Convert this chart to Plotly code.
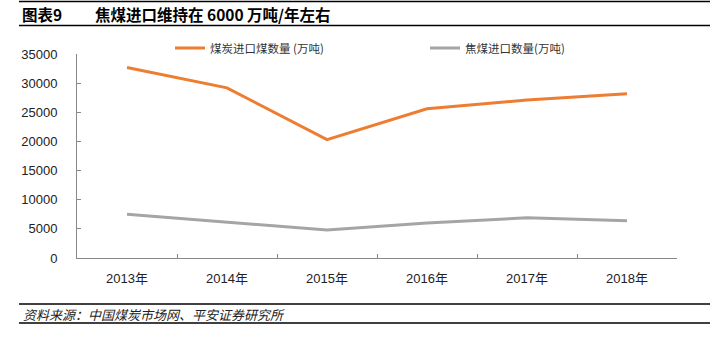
import plotly.graph_objects as go

years = ["2013年", "2014年", "2015年", "2016年", "2017年", "2018年"]
coal_import = [32700, 29200, 20300, 25600, 27100, 28200]
coking_import = [7500, 6200, 4800, 6000, 6900, 6400]
series_names = ["煤炭进口煤数量 (万吨)", "焦煤进口数量(万吨)"]
y_ticks = [0, 5000, 10000, 15000, 20000, 25000, 30000, 35000]
y_tick_labels = [str(v) for v in y_ticks]

W, H = 728, 351
L, R, T, B = 77, 51, 54, 93
PW, PH = W - L - R, H - T - B


def px_x(x):
    return (x - L) / PW


def px_y(y):
    return (H - B - y) / PH


fig = go.Figure()
fig.add_trace(go.Scatter(x=years, y=coal_import, name=series_names[0], mode="lines",
                         line=dict(color="#ED7D31", width=3)))
fig.add_trace(go.Scatter(x=years, y=coking_import, name=series_names[1], mode="lines",
                         line=dict(color="#A5A5A5", width=3)))

axis_font = dict(family="Liberation Sans, Arial, Noto Sans CJK SC", size=13, color="#222")

fig.update_layout(
    width=W, height=H,
    margin=dict(l=L, r=R, t=T, b=B),
    paper_bgcolor="white", plot_bgcolor="white",
    showlegend=True,
    legend=dict(orientation="h", x=px_x(170), xanchor="left", y=px_y(48), yanchor="middle",
                font=dict(family="Noto Sans CJK SC", size=11.5, color="#333"),
                entrywidth=210, entrywidthmode="pixels", bgcolor="rgba(0,0,0,0)",
                borderwidth=0, tracegroupgap=0, itemwidth=30),
    xaxis=dict(type="category", range=[-0.5, 5.5], showline=True, linecolor="#888",
               linewidth=1, ticks="inside", tickson="boundaries", ticklen=4,
               tickcolor="#888", showgrid=False, tickfont=axis_font, ticklabelstandoff=8),
    yaxis=dict(range=[0, 35000], tickvals=y_ticks, ticktext=y_tick_labels, showline=True,
               linecolor="#888", linewidth=1, ticks="inside", ticklen=4, tickcolor="#888",
               showgrid=False, zeroline=False, tickfont=axis_font, ticklabelstandoff=16),
)

# Decorative rules
for y in [1.5, 25.5, 304, 323]:
    fig.add_shape(type="line", xref="paper", yref="paper", x0=px_x(19), x1=px_x(710),
                  y0=px_y(y), y1=px_y(y), line=dict(color="black", width=1.5))

fig.add_annotation(text="<b>图表9</b>", xref="paper", yref="paper", x=px_x(20), y=px_y(14),
                   xanchor="left", yanchor="middle", showarrow=False,
                   font=dict(family="Noto Sans CJK SC", size=15.5, color="black"))
fig.add_annotation(text="<b>焦煤进口维持在 6000 万吨/年左右</b>", xref="paper", yref="paper",
                   x=px_x(93), y=px_y(14), xanchor="left", yanchor="middle", showarrow=False,
                   font=dict(family="Noto Sans CJK SC", size=15.5, color="black"))
fig.add_annotation(text="<i>资料来源：中国煤炭市场网、平安证券研究所</i>", xref="paper", yref="paper",
                   x=px_x(21), y=px_y(314), xanchor="left", yanchor="middle", showarrow=False,
                   font=dict(family="Noto Sans CJK SC", size=13, color="#222"))

fig.write_html("out.html")
